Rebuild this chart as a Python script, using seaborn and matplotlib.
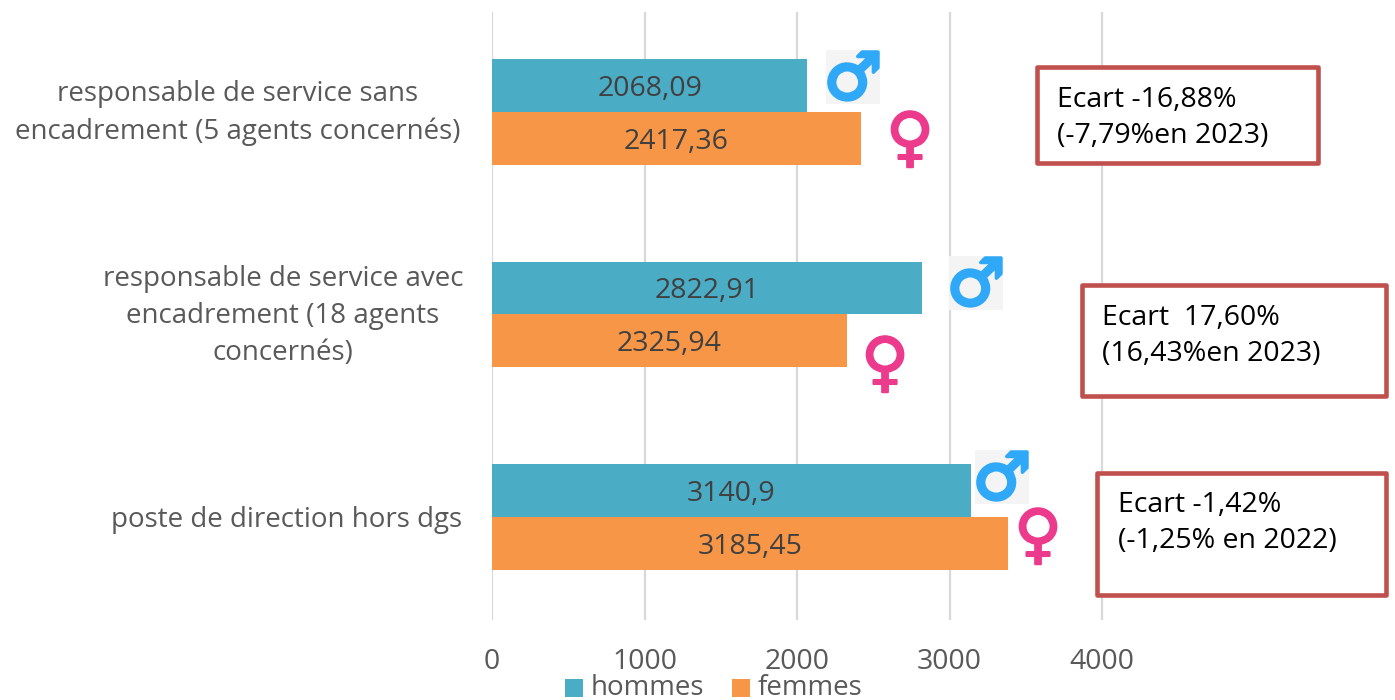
import matplotlib
matplotlib.use("Agg")
import matplotlib.pyplot as plt
import matplotlib.patheffects as pe
from matplotlib.patches import Rectangle
import seaborn as sns
import pandas as pd

categories = [
    "responsable de service sans\nencadrement (5 agents concernés)",
    "responsable de service avec\nencadrement (18 agents\nconcernés)",
    "poste de direction hors dgs",
]
hommes = [2068.09, 2822.91, 3140.9]
femmes = [2417.36, 2325.94, 3385]
hommes_labels = ["2068,09", "2822,91", "3140,9"]
femmes_labels = ["2417,36", "2325,94", "3185,45"]
ecarts = [
    "Ecart -16,88%\n(-7,79%en 2023)",
    "Ecart  17,60%\n(16,43%en 2023)",
    "Ecart -1,42%\n(-1,25% en 2022)",
]
xticks = [0, 1000, 2000, 3000, 4000]

W, H = 1395, 700
BLUE = "#4BACC6"
ORANGE = "#F79646"
GREY = "#595959"
RED = "#C0504D"

sns.set_theme(style="white")
plt.rcParams["font.family"] = ["Open Sans", "DejaVu Sans"]

df = pd.DataFrame({
    "poste": categories * 2,
    "sexe": ["hommes"] * 3 + ["femmes"] * 3,
    "valeur": hommes + femmes,
})

fig = plt.figure(figsize=(W / 100, H / 100), dpi=100)
# axes placed so that 0 falls at x=492 and 4000 at x=1102
ax = fig.add_axes([492 / W, 1 - 620 / H, (W - 492) / W, 608 / H])
sns.barplot(data=df, y="poste", x="valeur", hue="sexe", palette=[BLUE, ORANGE],
            width=0.523, gap=0, legend=False, ax=ax, zorder=3, saturation=1, linewidth=0)
ax.set_xlim(0, (W - 492) / 0.1525)
ax.set_ylim(2.509, -0.494)
ax.set_xlabel("")
ax.set_ylabel("")
sns.despine(ax=ax, left=True, bottom=True, top=True, right=True)

# gridlines only up to 4000
for v in xticks:
    ax.axvline(v, color="#D9D9D9", lw=1.6, zorder=1)

ax.set_xticks(xticks)
ax.set_xticklabels([str(v) for v in xticks], fontsize=20.5, color=GREY)
ax.tick_params(axis="x", length=0, pad=20)
ax.set_yticks([])

# value labels, centred in the bars
for container, labels in zip(ax.containers, [hommes_labels, femmes_labels]):
    for t in ax.bar_label(container, labels=labels, label_type="center", fontsize=20.5, color="#404040"):
        t.xyann = (0, -2.5)

def px(x, y):
    return x / W, 1 - y / H

# category labels, the source centres each block
cat_pos = [(238, 113), (283, 316), (287, 520)]
for (x, y), txt in zip(cat_pos, categories):
    fig.text(*px(x, y), txt, ha="center", va="center", fontsize=20, color=GREY,
             linespacing=1.43)

# symbols next to the bars
male_pos = [(853, 77), (976, 283), (1002, 477)]
female_pos = [(910, 141), (885, 366), (1038, 538)]
for x, y in male_pos:
    fig.add_artist(Rectangle(px(x - 27, y + 27), 54 / W, 54 / H, color="#F4F4F4", lw=0,
                             transform=fig.transFigure, zorder=4))
    fig.text(*px(x, y + 4), "\u2642", ha="center", va="center", fontsize=47, color="#2FA9F7",
             family="DejaVu Sans", fontweight="bold", zorder=5,
             path_effects=[pe.withStroke(linewidth=2.5, foreground="#2FA9F7")])
for x, y in female_pos:
    fig.text(*px(x, y), "\u2640", ha="center", va="center", fontsize=47, color="#EC3A8C",
             family="DejaVu Sans", fontweight="bold", zorder=5,
             path_effects=[pe.withStroke(linewidth=1.5, foreground="#EC3A8C")])

# boxes with the gaps
boxes = [(1037, 67, 281, 96), (1082, 285, 304, 111), (1097, 473, 289, 122)]
text_pos = [(1057, 118), (1102, 336), (1118, 523)]
for (x, y, w, h), (tx, ty), txt in zip(boxes, text_pos, ecarts):
    fig.add_artist(Rectangle(px(x, y + h), w / W, h / H, facecolor="white", edgecolor=RED,
                             lw=3.3, joinstyle="round", transform=fig.transFigure, zorder=4))
    fig.text(*px(tx, ty), txt, ha="left", va="center", fontsize=20.5, color="black",
             linespacing=1.35, zorder=5)

# legend at the bottom
for x, col, name in [(565, BLUE, "hommes"), (732, ORANGE, "femmes")]:
    fig.add_artist(Rectangle(px(x, 697), 18 / W, 18 / H, color=col, lw=0,
                             transform=fig.transFigure))
    fig.text(*px(x + 26, 688), name, ha="left", va="center", fontsize=20, color=GREY)

fig.savefig("out.png", dpi=100)
